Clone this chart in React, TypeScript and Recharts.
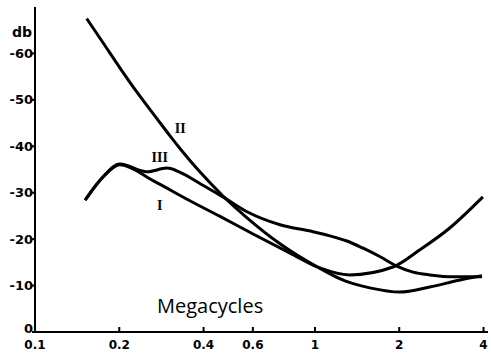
import React from "react";
import { LineChart, Line, XAxis, YAxis, ReferenceDot } from "recharts";

// frequency in megacycles, attenuation in db
const curveIFreq = [0.151, 0.175, 0.201, 0.264, 0.349, 0.458, 0.601, 0.815, 1.04, 1.33, 1.9, 2.37, 3.03, 3.98];
const curveIDb = [28.4, 33.4, 36.0, 32.6, 28.6, 24.9, 21.1, 17.0, 13.8, 12.3, 14.0, 17.7, 22.4, 29.1];

const curveIIFreq = [0.153, 0.175, 0.201, 0.231, 0.273, 0.304, 0.335, 0.388, 0.469, 0.572, 0.75, 1.02, 1.28, 1.57, 2.01, 2.57, 3.3, 3.95];
const curveIIDb = [67.5, 62.3, 56.9, 51.7, 45.9, 42.2, 39.0, 34.5, 29.3, 24.6, 19.0, 14.0, 11.0, 9.5, 8.6, 9.7, 11.2, 12.1];

const curveIIIFreq = [0.151, 0.175, 0.201, 0.251, 0.296, 0.33, 0.388, 0.469, 0.572, 0.75, 0.984, 1.13, 1.3, 1.48, 1.71, 1.96, 2.24, 2.57, 3.16, 3.95];
const curveIIIDb = [28.4, 33.4, 36.2, 34.5, 35.3, 34.4, 32.0, 29.1, 25.9, 23.1, 21.6, 20.7, 19.6, 18.1, 16.2, 14.2, 12.9, 12.3, 11.9, 11.9];

const xTicks = [0.1, 0.2, 0.4, 0.6, 1, 2, 4];
const xTickLabels = ["0.1", "0.2", "0.4", "0.6", "1", "2", "4"];
const yTicks = [0, 10, 20, 30, 40, 50, 60];
const yTickLabels = ["0", "-10", "-20", "-30", "-40", "-50", "-60"];

const curveLabels = [
  { name: "I", mc: 0.279, db: 27.4 },
  { name: "II", mc: 0.33, db: 44.0 },
  { name: "III", mc: 0.279, db: 37.7 },
];

const toRows = (freq: number[], db: number[]) =>
  freq.map((mc, i) => ({ mc, db: db[i] }));

const curveI = toRows(curveIFreq, curveIDb);
const curveII = toRows(curveIIFreq, curveIIDb);
const curveIII = toRows(curveIIIFreq, curveIIIDb);

const font = "'DejaVu Sans', sans-serif";

const XTick = (props: any) => {
  const { x, y, payload } = props;
  const i = xTicks.indexOf(payload.value);
  return (
    <g>
      <line x1={x} x2={x} y1={y - 13} y2={y - 8} stroke="#000" strokeWidth={2} />
      <text x={x} y={y} dy="0.71em" textAnchor="middle" fontFamily={font} fontWeight="bold" fontSize={12} fill="#000">
        {xTickLabels[i]}
      </text>
    </g>
  );
};

const YTick = (props: any) => {
  const { x, y, payload } = props;
  const i = yTicks.indexOf(payload.value);
  return (
    <text x={x + 1} y={payload.value === 0 ? y - 4 : y} dy="0.35em" textAnchor="end" fontFamily={font} fontWeight="bold" fontSize={13} fill="#000">
      {yTickLabels[i]}
    </text>
  );
};

export default function App() {
  return (
    <div style={{ position: "absolute", left: 0, top: 0, width: 492, height: 355, background: "#fff" }}>
      <LineChart width={492} height={355} data={curveI} margin={{ top: 7, right: 4, bottom: 0, left: 0 }}>
        <XAxis
          dataKey="mc"
          type="number"
          scale="log"
          domain={[0.1, 4.15]}
          allowDataOverflow
          ticks={xTicks}
          height={23}
          stroke="#000"
          strokeWidth={2}
          tickLine={false}
          tickSize={0}
          tickMargin={8}
          tick={<XTick />}
          interval={0}
        />
        <YAxis
          type="number"
          domain={[0, 70]}
          ticks={yTicks}
          width={35}
          stroke="#000"
          strokeWidth={2}
          tickSize={3}
          tickMargin={0}
          interval={0}
          tick={<YTick />}
        />
        <Line data={curveI} dataKey="db" type="monotone" stroke="#000" strokeWidth={3} dot={false} isAnimationActive={false} />
        <Line data={curveII} dataKey="db" type="monotone" stroke="#000" strokeWidth={3} dot={false} isAnimationActive={false} />
        <Line data={curveIII} dataKey="db" type="monotone" stroke="#000" strokeWidth={3} dot={false} isAnimationActive={false} />
        {curveLabels.map((c) => (
          <ReferenceDot
            key={c.name}
            x={c.mc}
            y={c.db}
            r={0}
            stroke="none"
            label={{ value: c.name, position: "center", fill: "#000", fontSize: 14, fontWeight: "bold", fontFamily: "'Liberation Serif', serif" }}
          />
        ))}
      </LineChart>
      <div style={{ position: "absolute", left: 12, top: 24, fontFamily: font, fontWeight: "bold", fontSize: 14 }}>db</div>
      <div style={{ position: "absolute", left: 157, top: 292, fontFamily: "'Open Sans', sans-serif", fontSize: 20 }}>Megacycles</div>
    </div>
  );
}
